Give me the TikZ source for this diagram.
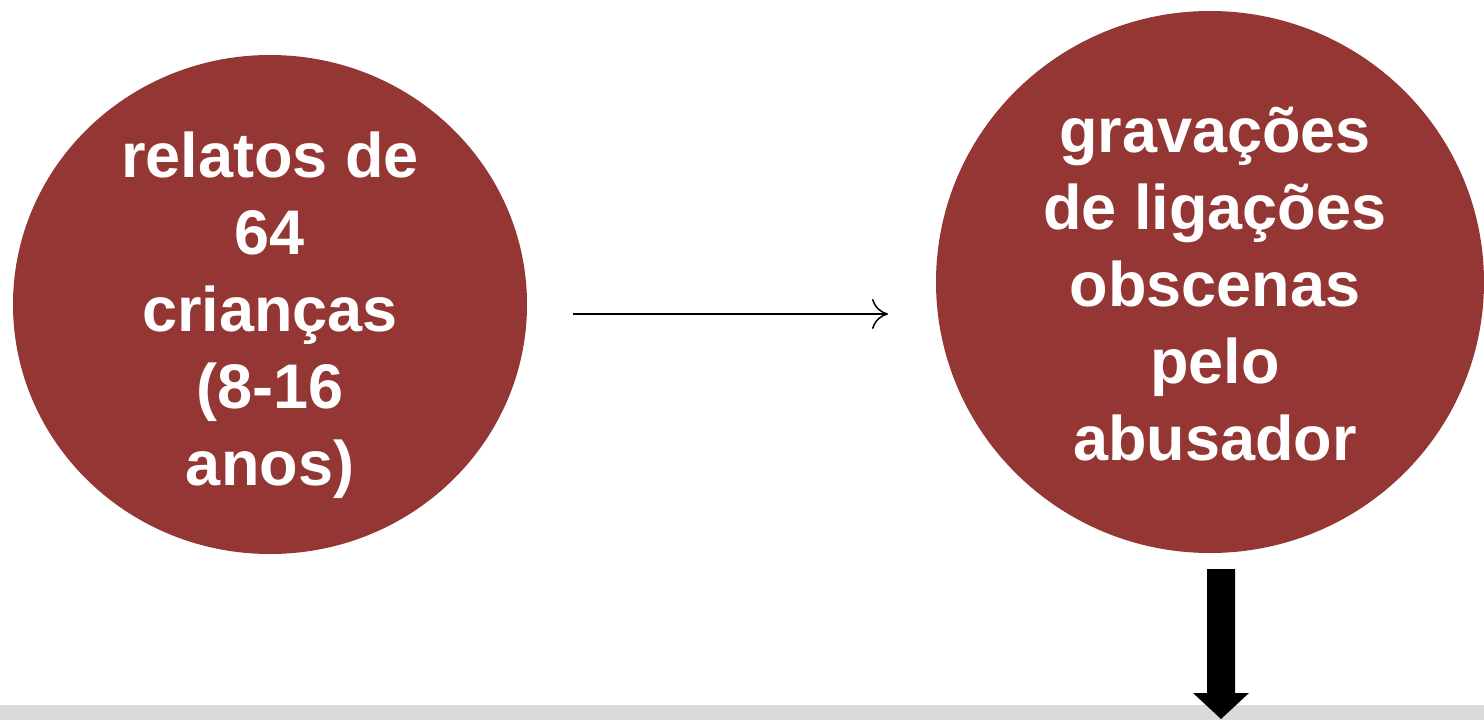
\documentclass[tikz,border=0pt]{standalone}
\usepackage{fontspec}
\setmainfont{Liberation Sans}
\usetikzlibrary{arrows.meta}
\definecolor{circred}{HTML}{943634}
\definecolor{bargray}{HTML}{D9D9D9}
\begin{document}
\begin{tikzpicture}[x=1pt,y=-1pt,
  circfill/.style={fill=circred},
  circtext/.style={text=white, align=center, inner sep=0pt,
    font=\fontsize{63}{77}\selectfont\bfseries},
  thinarrow/.style={-{To[length=16pt,width=30pt]}, line width=1.5pt},
]
\useasboundingbox (0,0) rectangle (1484,720);
\fill[bargray] (0,705) rectangle (1484,720);
\fill[circfill] (270,304.5) ellipse [x radius=257, y radius=249.5];
\fill[circfill] (1210,282) ellipse [x radius=274, y radius=271];
\node[circtext] (a) at (270,315) {relatos de\\64\\crianças\\(8-16\\anos)};
\node[circtext] (b) at (1215,284) {gravações\\de ligações\\obscenas\\pelo\\abusador};
\coordinate (s) at (573,314);
\coordinate (e) at (888,314);
\draw[thinarrow] (s) -- (e);
\coordinate (t0) at (1207,569);
\fill[black] (t0) -- ++(28,0) -- ++(0,124) -- ++(14,0) -- ++(-28,26) -- ++(-28,-26) -- ++(14,0) -- cycle;
\end{tikzpicture}
\end{document}
